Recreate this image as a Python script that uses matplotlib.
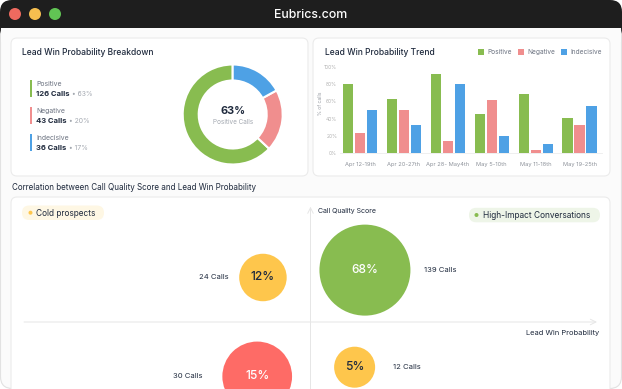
import matplotlib.pyplot as plt
import numpy as np
from matplotlib.patches import FancyBboxPatch, Rectangle, Circle

plt.rcParams['font.family'] = ['Inter', 'DejaVu Sans']

# --- data ---
segments = ['Positive', 'Negative', 'Indecisive']
seg_calls = [126, 43, 36]
seg_pct = [63, 20, 17]

weeks = ['Apr 12-19th', 'Apr 20-27th', 'Apr 28- May4th', 'May 5-10th', 'May 11-18th', 'May 19-25th']
positive = [80, 63, 91, 45, 69, 41]
negative = [23, 50, 14, 62, 4, 33]
indecisive = [50, 33, 80, 20, 11, 55]

bubble_calls = [24, 139, 30, 12]
bubble_pct = [12, 68, 15, 5]
lead_win = [41.7, 59.5, 40.7, 57.7]
quality = [69.3, 72.5, 26.4, 30.4]

# --- colours ---
GREEN = '#88bc50'
PINK = '#f08e8e'
BLUE = '#4ea1e5'
YELLOW = '#fec64c'
RED = '#fe6b66'
DARK = '#1f2a3d'
GREY = '#6b7280'
LIGHT = '#a3a8b0'

W, H = 622, 389
fig = plt.figure(figsize=(W / 100, H / 100), dpi=100)
fig.patch.set_facecolor('white')

# background axes in pixel units
ax0 = fig.add_axes([0, 0, 1, 1])
ax0.set_xlim(0, W)
ax0.set_ylim(H, 0)
ax0.axis('off')

# window + title bar
ax0.add_patch(FancyBboxPatch((0.5, 0.5), W - 1, H - 1, boxstyle='round,pad=0,rounding_size=12',
                             fc='#fbfbfb', ec='#e2e2e2', lw=0.8))
ax0.add_patch(FancyBboxPatch((0, 0), W, 40, boxstyle='round,pad=0,rounding_size=12',
                             fc='#1e1e1e', ec='none'))
ax0.add_patch(Rectangle((1, 28), W - 2, 14, fc='#fbfbfb', ec='none'))
for cx, c in zip([15, 35, 55], ['#ee6a5f', '#f5be4f', '#61c454']):
    ax0.add_patch(Circle((cx, 14), 6, fc=c, ec='none'))
ax0.text(W / 2, 14.5, 'Eubrics.com', color='white', fontsize=8.9, fontweight='medium',
         ha='center', va='center')

# cards
for (x, y, w, h) in [(11, 38, 297, 138), (313, 38, 297, 138), (11, 197, 599, 210)]:
    ax0.add_patch(FancyBboxPatch((x, y), w, h, boxstyle='round,pad=0,rounding_size=6',
                                 fc='white', ec='#ebebeb', lw=0.8))

# --- left card: breakdown ---
ax0.text(22, 52, 'Lead Win Probability Breakdown', fontsize=6.1, color=DARK,
         fontweight='medium', va='center')
colors3 = [GREEN, PINK, BLUE]
for i, (name, calls, pct) in enumerate(zip(segments, seg_calls, seg_pct)):
    top = 80 + i * 27
    ax0.add_patch(Rectangle((30, top), 1.8, 17, fc=colors3[i], ec='none'))
    ax0.text(36.5, top + 3.5, name, fontsize=4.9, color=GREY, va='center')
    t = ax0.text(36.5, top + 13.5, f'{calls} Calls', fontsize=5.5, color=DARK,
                 fontweight='bold', va='center')
    ax0.annotate(f' \u2022 {pct}%', xy=(1, 0.5), xycoords=t, fontsize=4.9,
                 color=LIGHT, va='center')

cx, cy, r = 232.7, 114.5, 50
ax1 = fig.add_axes([(cx - r) / W, (H - cy - r) / H, 2 * r / W, 2 * r / H])
ax1.pie(seg_pct, colors=colors3, startangle=90, counterclock=True, radius=1,
        wedgeprops=dict(width=0.32, edgecolor='white', linewidth=1.5))
ax1.set_xlim(-1, 1)
ax1.set_ylim(-1, 1)
ax1.text(0, 0.08, f'{seg_pct[0]}%', ha='center', va='center', fontsize=7.8,
         fontweight='bold', color=DARK)
ax1.text(0, -0.16, 'Positive Calls', ha='center', va='center', fontsize=4.6, color=LIGHT)

# --- right card: trend bars ---
ax0.text(325, 52, 'Lead Win Probability Trend', fontsize=6.1, color=DARK,
         fontweight='medium', va='center')
for lx, name, c in zip([478.3, 518.3, 560.7], segments, colors3):
    ax0.add_patch(Rectangle((lx, 49), 5.8, 5.8, fc=c, ec='none'))
    ax0.text(lx + 9.5, 52, name, fontsize=4.7, color=GREY, va='center')

y0, y100 = 153.3, 66.7
x_left, x_right = 340, 602
ax2 = fig.add_axes([x_left / W, (H - y0) / H, (x_right - x_left) / W, (y0 - y100) / H])
ax2.patch.set_alpha(0)
x = np.arange(len(weeks))
bw, step = 0.235, 0.274
ax2.bar(x - step, positive, bw, color=GREEN)
ax2.bar(x, negative, bw, color=PINK)
ax2.bar(x + step, indecisive, bw, color=BLUE)
ax2.set_xlim(-0.457, 5.51)
ax2.set_ylim(0, 100)
ax2.set_yticks(range(0, 101, 20))
ax2.set_yticklabels([f'{v}%' for v in range(0, 101, 20)])
ax2.set_xticks(x)
ax2.set_xticklabels(weeks)
ax2.tick_params(axis='y', length=0, pad=2, labelsize=3.6, labelcolor='#b3b3b3')
ax2.tick_params(axis='x', length=0, pad=6, labelsize=4.1, labelcolor='#8e939b')
for s in ['top', 'right', 'left']:
    ax2.spines[s].set_visible(False)
ax2.spines['bottom'].set_color('#ececec')
ax2.spines['bottom'].set_linewidth(0.6)
ax0.text(320, 103, '% of calls', rotation=90, fontsize=3.6, color='#9a9ea5',
         ha='center', va='center')

# --- bottom card: correlation quadrant ---
ax0.text(12, 187.5, 'Correlation between Call Quality Score and Lead Win Probability',
         fontsize=5.8, color=DARK, va='center')

# pills
ax0.add_patch(FancyBboxPatch((22, 205.5), 82, 14.5, boxstyle='round,pad=0,rounding_size=7.2',
                             fc='#fef7e4', ec='none'))
ax0.add_patch(Circle((30.5, 212.7), 2, fc=YELLOW, ec='none'))
ax0.text(36.5, 213, 'Cold prospects', fontsize=6, color=DARK, va='center')
ax0.add_patch(FancyBboxPatch((469, 207.8), 131, 14.5, boxstyle='round,pad=0,rounding_size=7.2',
                             fc='#eef5e8', ec='none'))
ax0.add_patch(Circle((476.5, 215), 2, fc=GREEN, ec='none'))
ax0.text(483, 215.3, 'High-Impact Conversations', fontsize=6, color=DARK, va='center')

ax0.text(317.5, 210.5, 'Call Quality Score', fontsize=5, color=DARK, va='center')
ax0.text(599, 332.5, 'Lead Win Probability', fontsize=5.4, color=DARK, va='center', ha='right')

qx0, qx1 = 24, 597
q50, q100 = 322, 206.7
unit = (q50 - q100) / 50
q0 = q50 + 50 * unit
ax3 = fig.add_axes([qx0 / W, (H - q0) / H, (qx1 - qx0) / W, 100 * unit / H])
ax3.patch.set_alpha(0)
ax3.set_xlim(0, 100)
ax3.set_ylim(0, 100)
ax3.axis('off')
ax3.annotate('', xy=(100, 50), xytext=(0, 50),
             arrowprops=dict(arrowstyle='->', color='#e6e6e6', lw=0.7, shrinkA=0, shrinkB=0))
ax3.annotate('', xy=(50, 100), xytext=(50, 0),
             arrowprops=dict(arrowstyle='->', color='#e6e6e6', lw=0.7, shrinkA=0, shrinkB=0))

bubble_colors = [YELLOW, GREEN, RED, YELLOW]
text_colors = [DARK, 'white', 'white', DARK]
bubble_d = [47.5, 91, 69.7, 41]          # diameters in px
label_dx = [-34, 59, -55, 38.5]           # label offset from centre in px
ax3.scatter(lead_win, quality, s=[(d * 0.72) ** 2 for d in bubble_d],
            c=bubble_colors, linewidths=0, clip_on=False, zorder=3)
for i in range(len(bubble_calls)):
    ax3.text(lead_win[i], quality[i], f'{bubble_pct[i]}%', ha='center', va='center',
             fontsize=8.6, fontweight='medium', color=text_colors[i], zorder=4)
    ax3.annotate(f'{bubble_calls[i]} Calls', xy=(lead_win[i], quality[i]),
                 xytext=(label_dx[i] * 0.72, 0), textcoords='offset points',
                 ha='right' if label_dx[i] < 0 else 'left', va='center',
                 fontsize=5.5, color=DARK, annotation_clip=False)

fig.savefig('out.png', dpi=100)
